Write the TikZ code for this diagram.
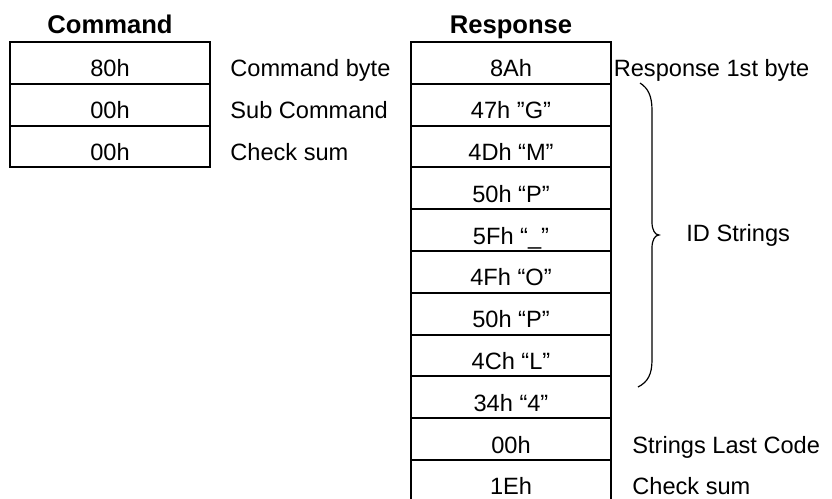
\documentclass[tikz,border=0pt]{standalone}
\usepackage{fontspec}
\setmainfont{Liberation Sans}
\usetikzlibrary{positioning}

\begin{document}
\begin{tikzpicture}[x=0.5pt,y=-0.5pt,
    font=\fontsize{11.8}{14}\selectfont,
    cell/.style={draw,line width=1pt,minimum width=100pt,minimum height=20.9pt,
      inner sep=0pt,outer sep=0pt,text height=14pt,text depth=0pt},
    note/.style={anchor=base west,inner sep=0pt},
    title/.style={font=\bfseries\fontsize{12.8}{15}\selectfont,anchor=base,inner sep=0pt}]
    \useasboundingbox (0,0) rectangle (832,499);
    \clip (0,0) rectangle (832,499);
    % titles
    \node[title] (cmdtitle) at (110,33) {Command};
    \node[title] (resptitle) at (511,33) {Response};
    % command frame
    \node[cell] (c1) at (110,62.9) {80h};
    \node[cell,below=0pt of c1] (c2) {00h};
    \node[cell,below=0pt of c2] (c3) {00h};
    \node[note] (c1n) at ([xshift=10pt]c1.base east) {Command byte};
    \node[note] (c2n) at ([xshift=10pt]c2.base east) {Sub Command};
    \node[note] (c3n) at ([xshift=10pt]c3.base east) {Check sum};
    % response frame
    \node[cell] (r1) at (511,62.9) {8Ah};
    \foreach \val [count=\i from 2, remember=\i as \j (initially 1)] in
      {47h ”G”, 4Dh “M”, 50h “P”, 5Fh “\_”, 4Fh “O”, 50h “P”, 4Ch “L”, 34h “4”, 00h, 1Eh}
      \node[cell,below=0pt of r\j] (r\i) {\val};
    \node[note] (r1n) at ([xshift=1.2pt]r1.base east) {Response 1st byte};
    \node[note] (r10n) at ([xshift=10.5pt]r10.base east) {Strings Last Code};
    \node[note] (r11n) at ([xshift=10.5pt]r11.base east) {Check sum};
    % brace over the id strings
    \coordinate (btop) at (640,83);
    \coordinate (btip) at (659,235);
    \coordinate (bbot) at (638,387);
    \draw[line width=0.6pt] (btop) .. controls (648,88) and (652,96) .. (652,110)
      -- (652,222) .. controls (652,230) and (655,235) .. (btip)
      .. controls (655,235) and (652,240) .. (652,248)
      -- (652,360) .. controls (652,374) and (648,382) .. (bbot);
    \node[anchor=west,inner sep=0pt] (idn) at ([xshift=13.5pt]btip) {ID Strings};
\end{tikzpicture}
\end{document}
